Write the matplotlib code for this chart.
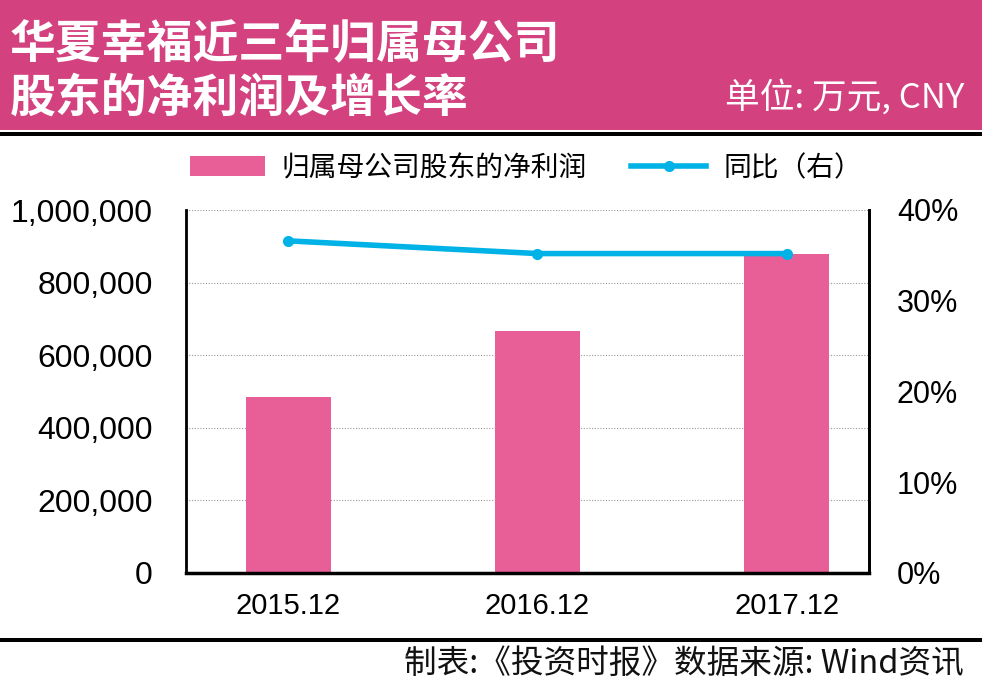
import numpy as np
import matplotlib
matplotlib.use("Agg")
import matplotlib.pyplot as plt
from matplotlib.patches import Rectangle, Patch
from matplotlib.lines import Line2D

# data
aar = ["2015.12", "2016.12", "2017.12"]
nettoresultat = [485000, 667000, 878000]
vekst = [36.6, 35.2, 35.2]

venstre_ticks = [0, 200000, 400000, 600000, 800000, 1000000]
hoyre_ticks = [0, 10, 20, 30, 40]

cjk = ["Noto Sans CJK SC", "DejaVu Sans"]
tall_font = ["Liberation Sans", "DejaVu Sans"]

rosa_topp = "#D3417F"
rosa_bar = "#E85F98"
blaa = "#00B2E6"

W, H = 982, 696
fig = plt.figure(figsize=(W / 100, H / 100), dpi=100)
fig.patch.set_facecolor("white")

# topp-felt
fig.add_artist(Rectangle((0, 1 - 130 / H), 1, 130 / H, transform=fig.transFigure,
                         facecolor=rosa_topp, edgecolor="none"))
fig.add_artist(Rectangle((0, 1 - 136 / H), 1, 4 / H, transform=fig.transFigure,
                         facecolor="black", edgecolor="none"))
# bunnlinje
fig.add_artist(Rectangle((0, 1 - 642 / H), 1, 4 / H, transform=fig.transFigure,
                         facecolor="black", edgecolor="none"))

fig.text(10 / W, 1 - 45 / H, "华夏幸福近三年归属母公司", color="white", fontsize=33,
         fontweight="bold", family=cjk, ha="left", va="center")
fig.text(10 / W, 1 - 99 / H, "股东的净利润及增长率", color="white", fontsize=33,
         fontweight="bold", family=cjk, ha="left", va="center")
fig.text(964 / W, 1 - 98 / H, "单位: 万元, CNY", color="white", fontsize=25,
         family=cjk, ha="right", va="center")
fig.text(964 / W, 1 - 664 / H, "制表:《投资时报》数据来源: Wind资讯", color="#111111",
         fontsize=23.5, family=cjk, ha="right", va="center")

# akser
ax = fig.add_axes([186 / W, 1 - 573 / H, (869 - 186) / W, (573 - 210) / H])
x = np.arange(len(aar))
ax.bar(x, nettoresultat, width=0.34, color=rosa_bar, zorder=2)
ax.set_xlim(-0.41, 2.33)
ax.set_ylim(0, 1000000)
ax.set_yticks(venstre_ticks)
ax.set_yticklabels([f"{v:,}" for v in venstre_ticks], family=tall_font, fontsize=23)
ax.set_xticks(x)
ax.set_xticklabels(aar, family=tall_font, fontsize=21)
ax.tick_params(axis="y", length=0, pad=24)
ax.tick_params(axis="x", length=0, pad=14)
ax.grid(axis="y", linestyle=(0, (1, 1.5)), color="#999999", linewidth=0.8, zorder=0)
ax.spines["top"].set_visible(False)
ax.spines["left"].set_linewidth(2)
ax.spines["bottom"].set_linewidth(2.5)
ax.spines["right"].set_linewidth(2)

ax2 = ax.twinx()
ax2.plot(x, vekst, color=blaa, linewidth=4, marker="o", markersize=7, zorder=3)
ax2.set_ylim(0, 40)
ax2.set_yticks(hoyre_ticks)
ax2.set_yticklabels([f"{v}%" for v in hoyre_ticks], family=tall_font, fontsize=22)
ax2.tick_params(axis="y", length=0, pad=20)
ax2.spines["top"].set_visible(False)
ax2.spines["right"].set_linewidth(2)

# legende
handles = [Patch(facecolor=rosa_bar, edgecolor="none"),
           Line2D([0], [0], color=blaa, linewidth=4, marker="o", markersize=7)]
fig.legend(handles, ["归属母公司股东的净利润", "同比（右）"], loc="center",
           bbox_to_anchor=(526 / W, 1 - 168 / H), ncol=2, frameon=False,
           prop={"family": cjk, "size": 20}, handlelength=2.7, handleheight=0.75,
           handletextpad=0.6, columnspacing=1.6)

fig.savefig("out.png", dpi=100)
